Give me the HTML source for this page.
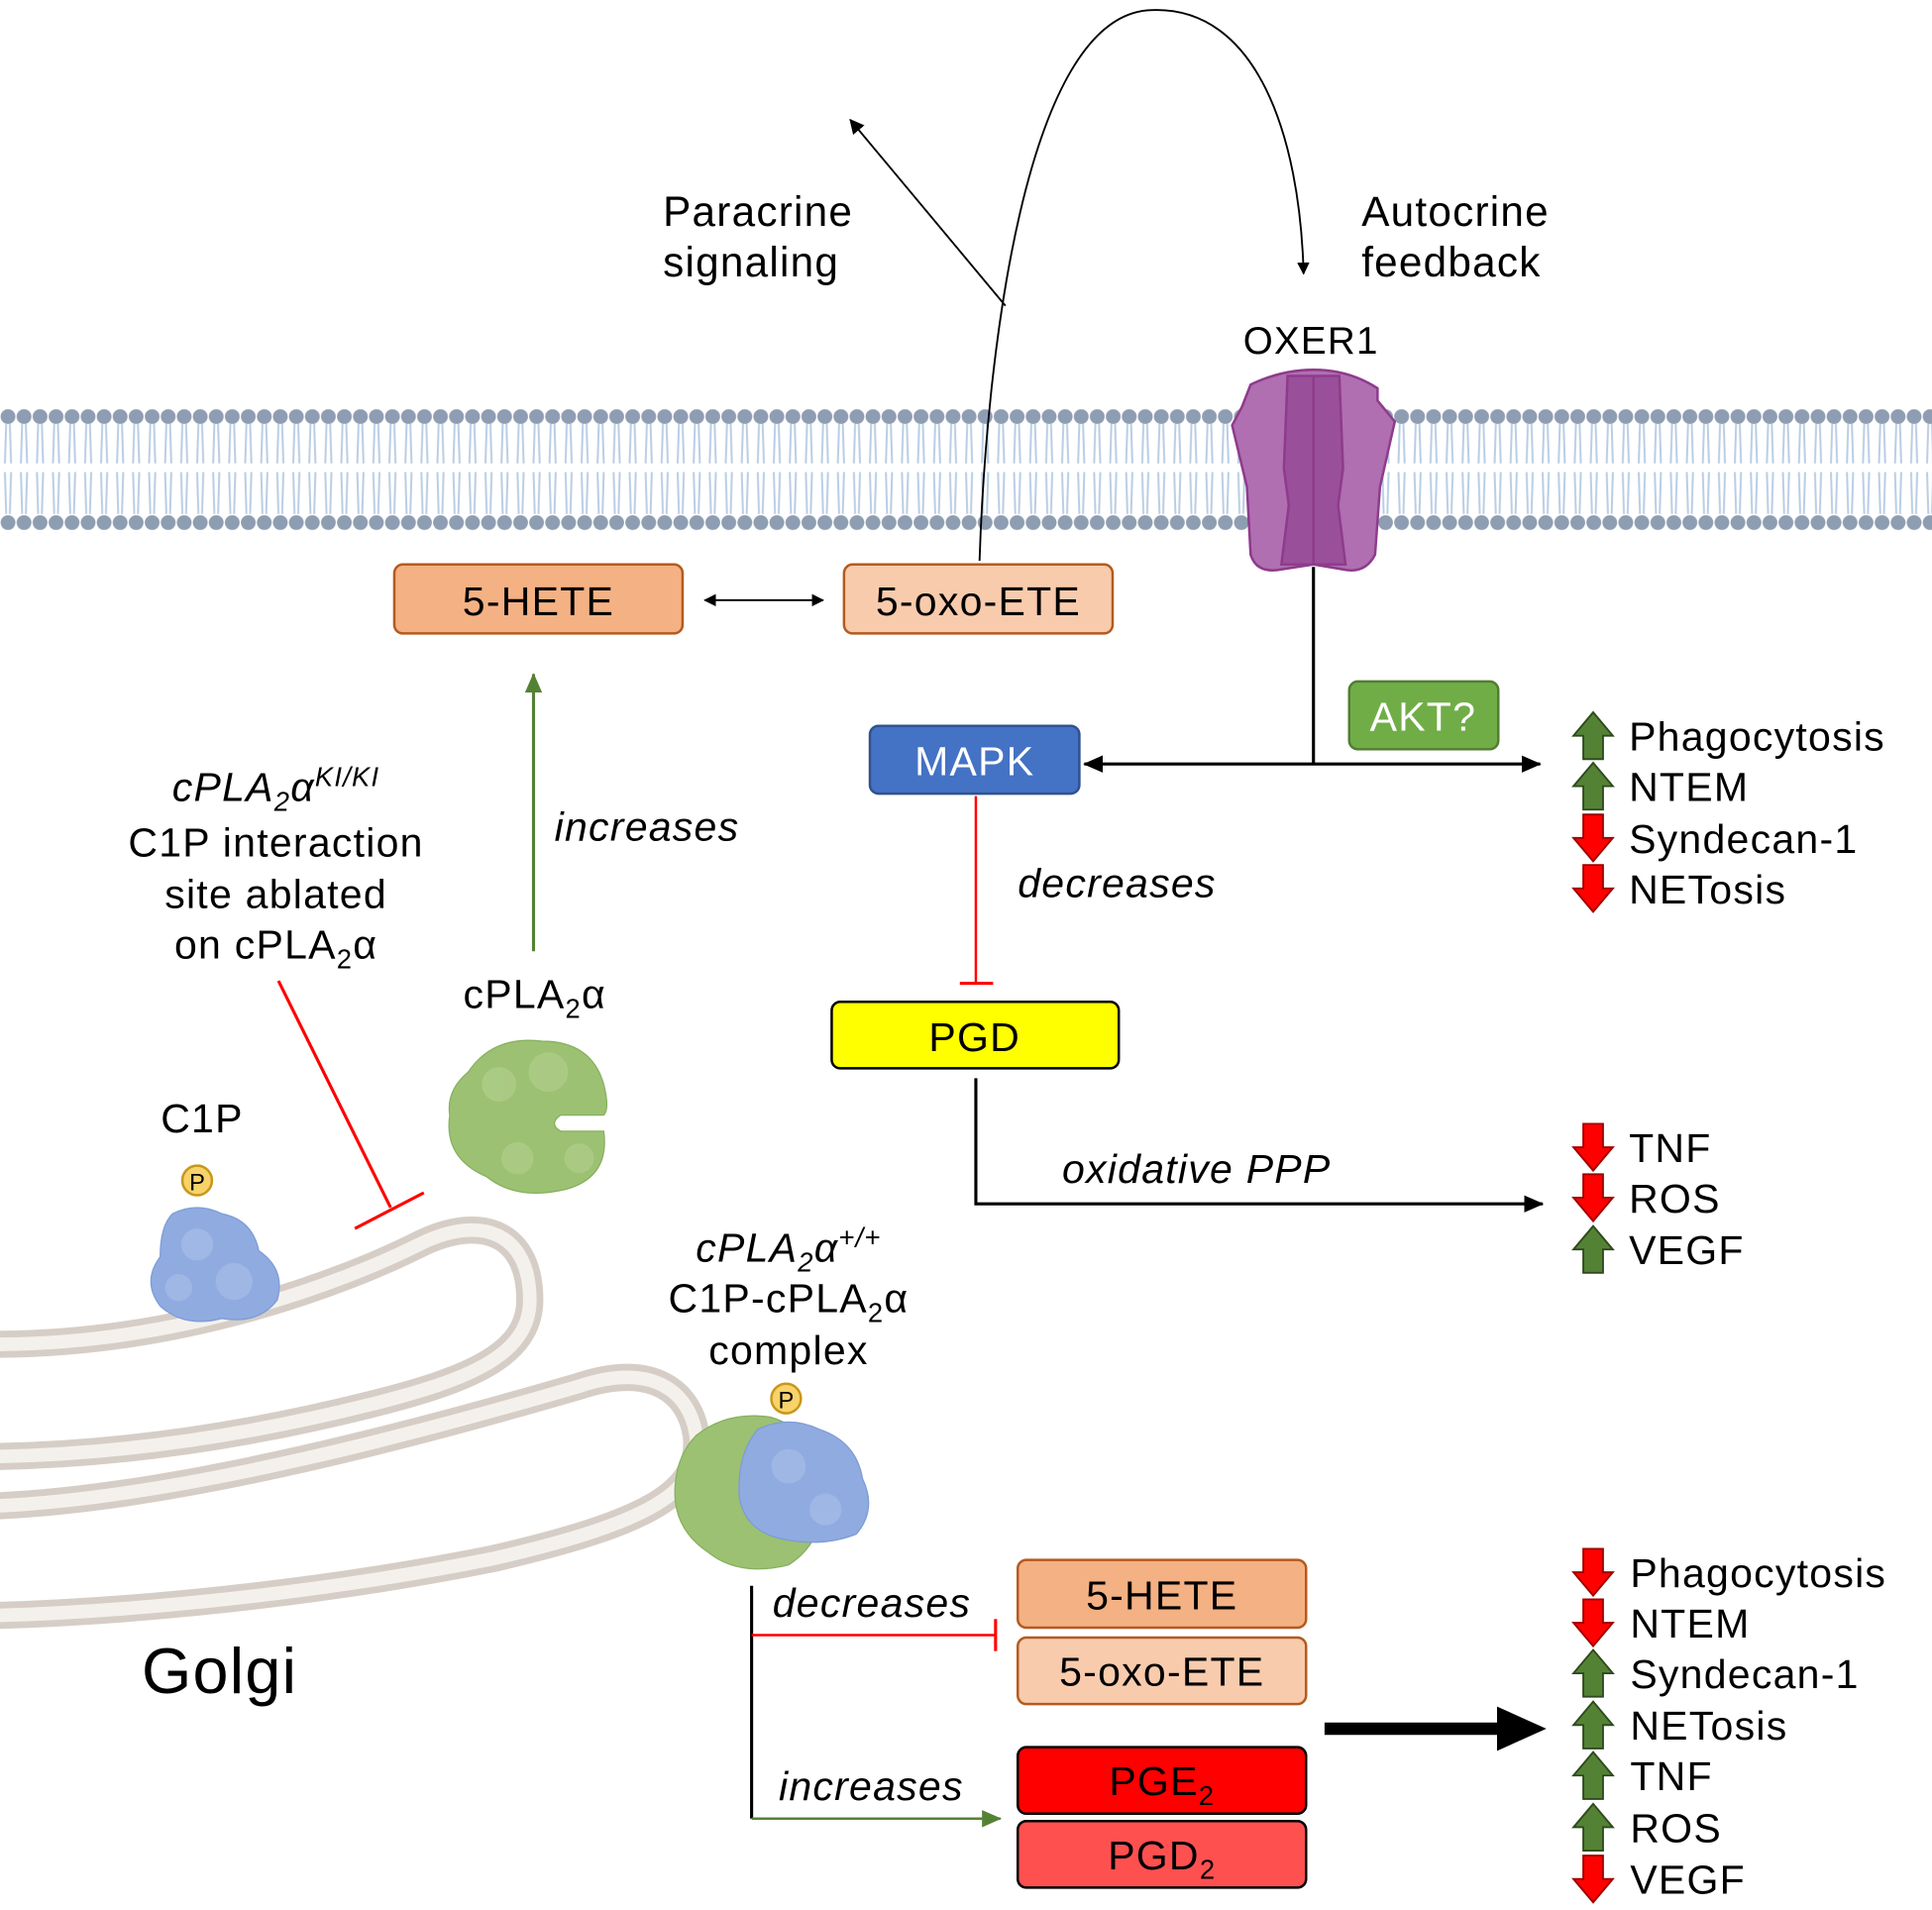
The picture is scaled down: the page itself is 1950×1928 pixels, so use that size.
<!DOCTYPE html>
<html><head><meta charset="utf-8"><style>
html,body{margin:0;padding:0;background:#fff}
svg{display:block}
text{font-family:"Liberation Sans",sans-serif;fill:#000;letter-spacing:1px}
</style></head><body>
<svg width="1950" height="1928" viewBox="0 0 1568 1550" xmlns="http://www.w3.org/2000/svg">
<defs>
<pattern id="lipT" x="0" y="331" width="13" height="100" patternUnits="userSpaceOnUse">
<circle cx="6.5" cy="7" r="6" fill="#8e9db2"/>
<path d="M5,13 L4,45 M8,13 L9,45" stroke="#b9cde5" stroke-width="1.6" fill="none"/>
<path d="M4,52 L5,86 M9,52 L8,86" stroke="#b9cde5" stroke-width="1.6" fill="none"/>
<circle cx="6.5" cy="93" r="6" fill="#8e9db2"/>
</pattern>
<marker id="ah" markerWidth="10" markerHeight="10" refX="9" refY="5" orient="auto-start-reverse" markerUnits="userSpaceOnUse"><path d="M0,0 L10,5 L0,10 Z" fill="#000"/></marker>
<marker id="ahl" markerWidth="16" markerHeight="14" refX="15" refY="7" orient="auto-start-reverse" markerUnits="userSpaceOnUse"><path d="M0,0 L16,7 L0,14 Z" fill="#000"/></marker>
<marker id="ahg" markerWidth="16" markerHeight="14" refX="15" refY="7" orient="auto" markerUnits="userSpaceOnUse"><path d="M0,0 L16,7 L0,14 Z" fill="#548235"/></marker>
<marker id="ahb" markerWidth="12" markerHeight="12" refX="11" refY="6" orient="auto" markerUnits="userSpaceOnUse"><path d="M0,0 L12,6 L0,12 Z" fill="#000"/></marker>
<g id="up"><path d="M-8,19 L-8,0 L-16,0 L0,-19 L16,0 L8,0 L8,19 Z" fill="#548235" stroke="#2e4a1c" stroke-width="1.5"/></g>
<g id="dn"><path d="M-8,-19 L-8,0 L-16,0 L0,19 L16,0 L8,0 L8,-19 Z" fill="#ff0000" stroke="#a00000" stroke-width="1.5"/></g>
</defs>

<rect x="0" y="331" width="1568" height="100" fill="url(#lipT)"/>

<g stroke="#8e3b8c" stroke-width="2">
<path d="M1015,312 Q1040,300 1066,300 Q1095,300 1118,315 L1118,325 L1132,342 L1120,395 L1116,450 Q1108,466 1090,462 L1066,458 L1040,462 Q1020,466 1015,450 L1012,395 L1000,345 L1008,330 Z" fill="#b06fb0"/>
<path d="M1045,305 L1087,305 L1090,380 L1086,410 L1092,458 L1040,458 L1046,410 L1042,380 Z" fill="#9a4f9a"/>
<path d="M1066,305 L1066,458" fill="none"/>
</g>
<text x="1064" y="287" font-size="31" text-anchor="middle">OXER1</text>

<path d="M795,455 C800,300 830,10 935,8 C1020,5 1055,110 1058,222" fill="none" stroke="#000" stroke-width="1.5" marker-end="url(#ah)"/>
<line x1="816" y1="248" x2="690" y2="97" stroke="#000" stroke-width="1.5" marker-end="url(#ahb)"/>
<text x="538" y="183" font-size="34">Paracrine</text>
<text x="538" y="224" font-size="34">signaling</text>
<text x="1105" y="183" font-size="34">Autocrine</text>
<text x="1105" y="224" font-size="34">feedback</text>

<rect x="320" y="458" width="234" height="56" rx="7" fill="#f4b183" stroke="#b55a1e" stroke-width="2"/>
<text x="437" y="499" font-size="33" text-anchor="middle">5-HETE</text>
<rect x="685" y="458" width="218" height="56" rx="7" fill="#f8cbad" stroke="#b55a1e" stroke-width="2"/>
<text x="794" y="499" font-size="33" text-anchor="middle">5-oxo-ETE</text>
<line x1="572" y1="487" x2="668" y2="487" stroke="#000" stroke-width="1.5" marker-end="url(#ah)" marker-start="url(#ah)"/>

<line x1="1066" y1="460" x2="1066" y2="620" stroke="#000" stroke-width="2.5"/>
<line x1="880" y1="620" x2="1250" y2="620" stroke="#000" stroke-width="2.5" marker-end="url(#ahl)" marker-start="url(#ahl)"/>
<rect x="1095" y="553" width="121" height="55" rx="7" fill="#70ad47" stroke="#507e32" stroke-width="2"/>
<text x="1155" y="593" font-size="33" text-anchor="middle" style="fill:#fff">AKT?</text>
<rect x="706" y="589" width="170" height="55" rx="7" fill="#4472c4" stroke="#2f528f" stroke-width="2"/>
<text x="791" y="629" font-size="33" text-anchor="middle" style="fill:#fff">MAPK</text>
<line x1="792" y1="646" x2="792" y2="798" stroke="#ff0000" stroke-width="2"/>
<line x1="779" y1="798" x2="806" y2="798" stroke="#ff0000" stroke-width="2.5"/>
<text x="826" y="728" font-size="33" font-style="italic">decreases</text>
<rect x="675" y="813" width="233" height="54" rx="7" fill="#ffff00" stroke="#000" stroke-width="2"/>
<text x="791" y="853" font-size="33" text-anchor="middle">PGD</text>
<path d="M792,875 L792,977 L1252,977" fill="none" stroke="#000" stroke-width="2.5" marker-end="url(#ahl)"/>
<text x="862" y="960" font-size="33" font-style="italic">oxidative PPP</text>

<line x1="433" y1="772" x2="433" y2="547" stroke="#548235" stroke-width="2.5" marker-end="url(#ahg)"/>
<text x="450" y="682" font-size="33" font-style="italic">increases</text>

<text x="224" y="650" font-size="33" font-style="italic" text-anchor="middle">cPLA<tspan font-size="22" dy="8">2</tspan><tspan dy="-8">α</tspan><tspan font-size="22" dy="-12">KI/KI</tspan></text>
<text x="224" y="695" font-size="33" text-anchor="middle">C1P interaction</text>
<text x="224" y="737" font-size="33" text-anchor="middle">site ablated</text>
<text x="224" y="778" font-size="33" text-anchor="middle">on cPLA<tspan font-size="22" dy="8">2</tspan><tspan dy="-8">α</tspan></text>
<line x1="226" y1="796" x2="317" y2="980" stroke="#ff0000" stroke-width="2.5"/>
<line x1="288" y1="997" x2="344" y2="968" stroke="#ff0000" stroke-width="2.5"/>

<text x="434" y="818" font-size="33" text-anchor="middle">cPLA<tspan font-size="22" dy="8">2</tspan><tspan dy="-8">α</tspan></text>
<text x="164" y="919" font-size="33" text-anchor="middle">C1P</text>

<g fill="none" stroke-linecap="round">
<path d="M0,1091 C150,1090 280,1040 340,1010 C390,985 430,1000 430,1055 C430,1100 380,1120 300,1140 C200,1165 100,1180 0,1182" stroke="#d6cec6" stroke-width="22"/>
<path d="M0,1091 C150,1090 280,1040 340,1010 C390,985 430,1000 430,1055 C430,1100 380,1120 300,1140 C200,1165 100,1180 0,1182" stroke="#f4f1ed" stroke-width="11"/>
<path d="M0,1222 C150,1215 350,1160 470,1125 C530,1105 560,1130 565,1165 C570,1210 530,1235 400,1265 C250,1295 100,1308 0,1311" stroke="#d6cec6" stroke-width="22"/>
<path d="M0,1222 C150,1215 350,1160 470,1125 C530,1105 560,1130 565,1165 C570,1210 530,1235 400,1265 C250,1295 100,1308 0,1311" stroke="#f4f1ed" stroke-width="11"/>
</g>
<text x="115" y="1374" font-size="52">Golgi</text>

<g fill="#9cc172" stroke="#86b05e" stroke-width="1">
<path d="M380,870 Q400,840 440,845 Q480,845 490,880 Q495,900 490,905 L455,905 Q445,912 455,918 L490,918 Q495,955 460,965 Q420,975 395,955 Q360,940 365,905 Q362,885 380,870 Z"/>
</g>
<g fill="#b0cf8c" opacity="0.7"><circle cx="405" cy="880" r="14"/><circle cx="445" cy="870" r="16"/><circle cx="420" cy="940" r="13"/><circle cx="470" cy="940" r="12"/></g>
<path d="M140,985 Q160,975 180,985 Q205,990 210,1015 Q232,1030 225,1055 Q210,1075 180,1070 Q150,1078 130,1060 Q115,1040 130,1020 Q130,995 140,985 Z" fill="#8fabe0" stroke="#7d9bd6"/>
<g fill="#a5bde8" opacity="0.7"><circle cx="160" cy="1010" r="13"/><circle cx="190" cy="1040" r="15"/><circle cx="145" cy="1045" r="11"/></g>
<circle cx="160" cy="958" r="12" fill="#f7d36a" stroke="#c9961a" stroke-width="2"/>
<text x="160" y="966" font-size="19" text-anchor="middle" style="letter-spacing:0">P</text>

<text x="640" y="1024" font-size="33" font-style="italic" text-anchor="middle">cPLA<tspan font-size="22" dy="8">2</tspan><tspan dy="-8">α</tspan><tspan font-size="22" dy="-12">+/+</tspan></text>
<text x="640" y="1065" font-size="33" text-anchor="middle">C1P-cPLA<tspan font-size="22" dy="8">2</tspan><tspan dy="-8">α</tspan></text>
<text x="640" y="1107" font-size="33" text-anchor="middle">complex</text>
<path d="M565,1165 Q590,1145 625,1150 Q660,1160 670,1200 Q672,1250 640,1270 Q600,1280 575,1260 Q545,1240 548,1205 Q550,1180 565,1165 Z" fill="#9cc172" stroke="#86b05e"/>
<path d="M615,1160 Q640,1148 665,1160 Q695,1170 700,1200 Q712,1225 695,1245 Q670,1255 640,1250 Q605,1245 600,1215 Q598,1180 615,1160 Z" fill="#8fabe0" stroke="#7d9bd6"/>
<g fill="#a5bde8" opacity="0.7"><circle cx="640" cy="1190" r="14"/><circle cx="670" cy="1225" r="13"/></g>
<circle cx="638" cy="1135" r="12" fill="#f7d36a" stroke="#c9961a" stroke-width="2"/>
<text x="638" y="1143" font-size="19" text-anchor="middle" style="letter-spacing:0">P</text>

<line x1="610" y1="1287" x2="610" y2="1476" stroke="#000" stroke-width="2.5"/>
<line x1="610" y1="1327" x2="808" y2="1327" stroke="#ff0000" stroke-width="2"/>
<line x1="808" y1="1314" x2="808" y2="1340" stroke="#ff0000" stroke-width="2.5"/>
<line x1="610" y1="1476" x2="812" y2="1476" stroke="#548235" stroke-width="2" marker-end="url(#ahg)"/>
<text x="627" y="1312" font-size="33" font-style="italic">decreases</text>
<text x="632" y="1461" font-size="33" font-style="italic">increases</text>
<rect x="826" y="1266" width="234" height="55" rx="7" fill="#f4b183" stroke="#b55a1e" stroke-width="2"/>
<text x="943" y="1306" font-size="33" text-anchor="middle">5-HETE</text>
<rect x="826" y="1329" width="234" height="54" rx="7" fill="#f8cbad" stroke="#b55a1e" stroke-width="2"/>
<text x="943" y="1368" font-size="33" text-anchor="middle">5-oxo-ETE</text>
<rect x="826" y="1418" width="234" height="54" rx="7" fill="#ff0000" stroke="#000" stroke-width="2"/>
<text x="943" y="1457" font-size="33" text-anchor="middle">PGE<tspan font-size="22" dy="8">2</tspan></text>
<rect x="826" y="1478" width="234" height="54" rx="7" fill="#ff5050" stroke="#000" stroke-width="2"/>
<text x="943" y="1517" font-size="33" text-anchor="middle">PGD<tspan font-size="22" dy="8">2</tspan></text>
<path d="M1075,1398 L1215,1398 L1215,1385 L1255,1403 L1215,1421 L1215,1408 L1075,1408 Z" fill="#000"/>

<g font-size="33">
<use href="#up" x="1293" y="597"/><text x="1322" y="609">Phagocytosis</text>
<use href="#up" x="1293" y="638"/><text x="1322" y="650">NTEM</text>
<use href="#dn" x="1293" y="680"/><text x="1322" y="692">Syndecan-1</text>
<use href="#dn" x="1293" y="721"/><text x="1322" y="733">NETosis</text>
<use href="#dn" x="1293" y="931"/><text x="1322" y="943">TNF</text>
<use href="#dn" x="1293" y="972"/><text x="1322" y="984">ROS</text>
<use href="#up" x="1293" y="1014"/><text x="1322" y="1026">VEGF</text>
<use href="#dn" x="1293" y="1276"/><text x="1323" y="1288">Phagocytosis</text>
<use href="#dn" x="1293" y="1317"/><text x="1323" y="1329">NTEM</text>
<use href="#up" x="1293" y="1358"/><text x="1323" y="1370">Syndecan-1</text>
<use href="#up" x="1293" y="1400"/><text x="1323" y="1412">NETosis</text>
<use href="#up" x="1293" y="1441"/><text x="1323" y="1453">TNF</text>
<use href="#up" x="1293" y="1483"/><text x="1323" y="1495">ROS</text>
<use href="#dn" x="1293" y="1525"/><text x="1323" y="1537">VEGF</text>
</g>
</svg>
</body></html>
